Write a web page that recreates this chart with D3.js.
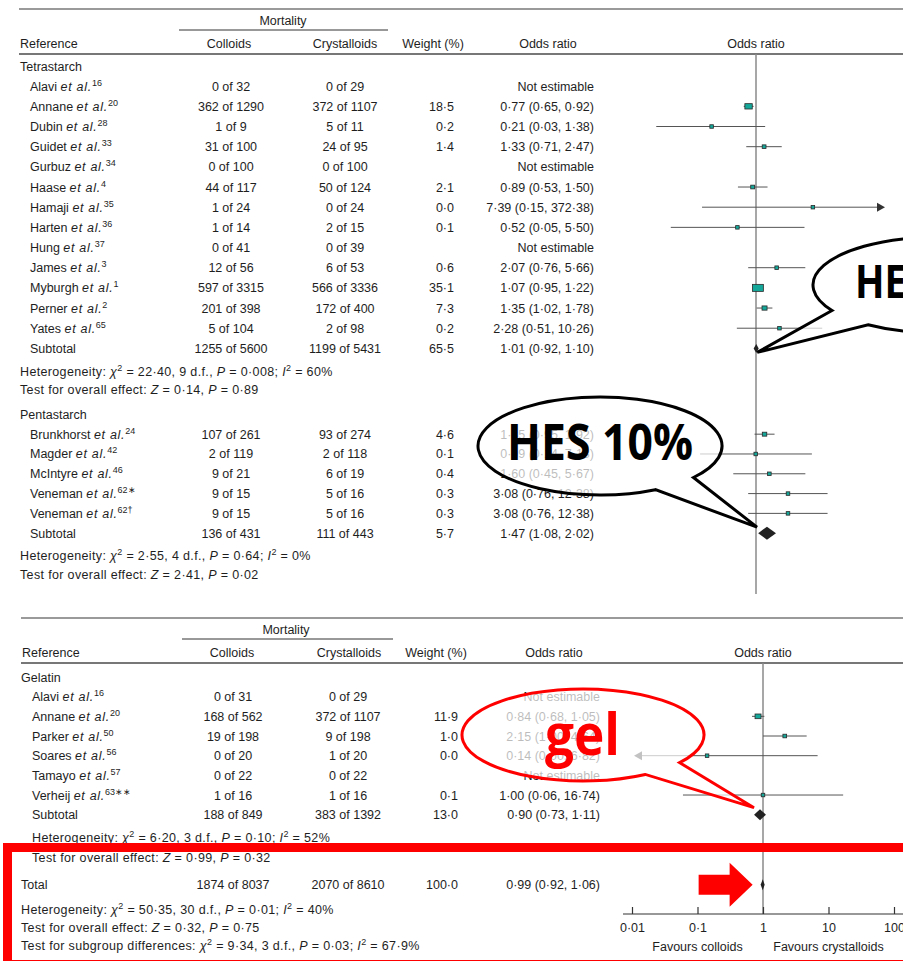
<!DOCTYPE html>
<html><head><meta charset="utf-8">
<script src="https://cdn.jsdelivr.net/npm/d3@7"></script>
<style>
html,body{margin:0;padding:0;background:#fff;overflow:hidden}
svg{display:block}
text{font-family:"Liberation Sans",Arial,Helvetica,sans-serif;font-size:12.5px;fill:#1e1e1e;white-space:pre}
</style></head><body>
<svg id="chart" width="903" height="961"></svg>
<script>
// ---------- data: tetrastarch ----------
const tetraNames = ["Alavi","Annane","Dubin","Guidet","Gurbuz","Haase","Hamaji","Harten","Hung","James","Myburgh","Perner","Yates"];
const tetraRefs = ["16","20","28","33","34","4","35","36","37","3","1","2","65"];
const tetraColEvents = [0,362,1,31,0,44,1,1,0,12,597,201,5];
const tetraColTotals = [32,1290,9,100,100,117,24,14,41,56,3315,398,104];
const tetraCryEvents = [0,372,5,24,0,50,0,2,0,6,566,172,2];
const tetraCryTotals = [29,1107,11,95,100,124,24,15,39,53,3336,400,98];
const tetraWeights = [null,18.5,0.2,1.4,null,2.1,0.0,0.1,null,0.6,35.1,7.3,0.2];
const tetraOR = [null,0.77,0.21,1.33,null,0.89,7.39,0.52,null,2.07,1.07,1.35,2.28];
const tetraLo = [null,0.65,0.03,0.71,null,0.53,0.15,0.05,null,0.76,0.95,1.02,0.51];
const tetraHi = [null,0.92,1.38,2.47,null,1.50,372.38,5.50,null,5.66,1.22,1.78,10.26];
const tetraSubtotal = [1255,5600,1199,5431,65.5,1.01,0.92,1.10];
const tetraHet = ["22·40","9","0·008","60"];
const tetraEffect = ["0·14","0·89"];

// ---------- data: pentastarch ----------
const pentaNames = ["Brunkhorst","Magder","McIntyre","Veneman","Veneman"];
const pentaRefs = ["24","42","46","62∗","62†"];
const pentaColEvents = [107,2,9,9,9];
const pentaColTotals = [261,119,21,15,15];
const pentaCryEvents = [93,2,6,5,5];
const pentaCryTotals = [274,118,19,16,16];
const pentaWeights = [4.6,0.1,0.4,0.3,0.3];
const pentaOR = [1.35,0.99,1.60,3.08,3.08];
const pentaLo = [0.95,0.14,0.45,0.76,0.76];
const pentaHi = [1.92,7.13,5.67,12.38,12.38];
const pentaSubtotal = [136,431,111,443,5.7,1.47,1.08,2.02];
const pentaHet = ["2·55","4","0·64","0"];
const pentaEffect = ["2·41","0·02"];

// ---------- data: gelatin ----------
const gelNames = ["Alavi","Annane","Parker","Soares","Tamayo","Verheij"];
const gelRefs = ["16","20","50","56","57","63∗∗"];
const gelColEvents = [0,168,19,0,0,1];
const gelColTotals = [31,562,198,20,22,16];
const gelCryEvents = [0,372,9,1,0,1];
const gelCryTotals = [29,1107,198,20,22,16];
const gelWeights = [null,11.9,1.0,0.0,null,0.1];
const gelOR = [null,0.84,2.15,0.14,null,1.00];
const gelLo = [null,0.68,1.00,0.00,null,0.06];
const gelHi = [null,1.05,4.64,6.82,null,16.74];
const gelSubtotal = [188,849,383,1392,13.0,0.90,0.73,1.11];
const gelHet = ["6·20","3","0·10","52"];
const gelEffect = ["0·99","0·32"];

// ---------- data: overall ----------
const totalRow = [1874,8037,2070,8610,100.0,0.99,0.92,1.06];
const totalHet = ["50·35","30","0·01","40"];
const totalEffect = ["0·32","0·75"];
const subgroupTest = ["9·34","3","0·03","67·9"];
const axisTicks = [0.01,0.1,1,10,100];
const axisTickLabels = ["0·01","0·1","1","10","100"];

// ---------- helpers ----------
const svg = d3.select("#chart");
const fmt = (v, d) => v.toFixed(d).replace(".", "·");
const TEAL = "#14a89a";

function studies(names, refs, ce, ct, re, rt, w, or, lo, hi) {
  return names.map((n, i) => ({kind:"study", name:n, ref:refs[i],
    col:`${ce[i]} of ${ct[i]}`, cry:`${re[i]} of ${rt[i]}`,
    w:w[i], or:or[i], lo:lo[i], hi:hi[i]}));
}
function pooled(kind, label, s) {
  return {kind, name:label, col:`${s[0]} of ${s[1]}`, cry:`${s[2]} of ${s[3]}`,
    w:s[4], or:s[5], lo:s[6], hi:s[7]};
}
const hetParts = h => [["Heterogeneity: "],["χ","i"],["2","sup"],[` = ${h[0]}, ${h[1]} d.f., `],["P","i"],[` = ${h[2]}; `],["I","i"],["2","sup"],[` = ${h[3]}%`]];
const effParts = e => [["Test for overall effect: "],["Z","i"],[` = ${e[0]}, `],["P","i"],[` = ${e[1]}`]];
const subParts = h => [["Test for subgroup differences: "],["χ","i"],["2","sup"],[` = ${h[0]}, ${h[1]} d.f., `],["P","i"],[` = ${h[2]}; `],["I","i"],["2","sup"],[` = ${h[3]}%`]];

function writeParts(t, parts) {
  let raised = false;
  parts.forEach(([s, st]) => {
    const ts = t.append("tspan").text(s);
    if (st === "i") ts.attr("font-style", "italic");
    if (st === "ei") ts.attr("font-style", "italic").style("letter-spacing", "0.7px");
    if (st === "sup") {
      ts.style("font-size", "9px");
      if (!raised) ts.attr("dy", -5);
      raised = true;
    } else if (raised) { ts.attr("dy", 5); raised = false; }
  });
}

// Lays rows out top-to-bottom; each entry gives the gap before that row
function layout(entries, y0) {
  let y = y0;
  return entries.map(([row, gap], i) => { if (i) y += gap; return Object.assign({y}, row); });
}

function drawPanel(g, cfg, rows) {
  const x = d3.scaleLog().domain([0.01, 100]).range([cfg.x1 - 131, cfg.x1 + 131]);
  const T = (px, py, anchor) => g.append("text").attr("x", px).attr("y", py + 4.5).attr("text-anchor", anchor || "start");

  // header block
  g.append("line").attr("x1", cfg.left).attr("x2", 903).attr("y1", cfg.top).attr("y2", cfg.top)
    .attr("stroke", "#9a9a9a").attr("stroke-width", 2);
  T(cfg.mortC, cfg.top + 11, "middle").text("Mortality");
  g.append("line").attr("x1", cfg.mortL).attr("x2", cfg.mortR).attr("y1", cfg.top + 21).attr("y2", cfg.top + 21)
    .attr("stroke", "#333").attr("stroke-width", 1);
  const hy = cfg.top + 34;
  T(cfg.left + 1, hy).text("Reference");
  T(cfg.colH, hy, "middle").text("Colloids");
  T(cfg.cryH, hy, "middle").text("Crystalloids");
  T(cfg.wH, hy, "middle").text("Weight (%)");
  T(cfg.orH, hy, "middle").text("Odds ratio");
  T(cfg.x1, hy, "middle").text("Odds ratio");
  g.append("line").attr("x1", cfg.left).attr("x2", 903).attr("y1", cfg.top + 45).attr("y2", cfg.top + 45)
    .attr("stroke", "#4a4a4a").attr("stroke-width", 1.5);

  // line of no effect
  g.append("line").attr("x1", x(1)).attr("x2", x(1)).attr("y1", cfg.top + 45).attr("y2", cfg.refBottom)
    .attr("stroke", "#8a8a8a").attr("stroke-width", 1.5);

  const orText = r => r.or == null ? "Not estimable" : `${fmt(r.or, 2)} (${fmt(r.lo, 2)}, ${fmt(r.hi, 2)})`;

  rows.forEach(r => {
    if (r.kind === "group") { T(cfg.headX, r.y).text(r.name); return; }
    if (r.kind === "stat") { writeParts(T(r.x, r.y).style("letter-spacing", "0.35px"), r.parts); return; }
    const nx = r.kind === "total" ? cfg.headX : cfg.nameX;
    const t = T(nx, r.y);
    if (r.kind === "study") writeParts(t, [[r.name + " "], ["et al.", "ei"], [r.ref, "sup"]]);
    else t.text(r.name);
    T(cfg.colC, r.y, "middle").text(r.col);
    T(cfg.cryC, r.y, "middle").text(r.cry);
    if (r.w != null) T(cfg.wR, r.y, "end").text(fmt(r.w, 1));
    T(cfg.orR, r.y, "end").text(orText(r));
    if (r.or == null) return;

    if (r.kind === "study") {
      const lo = Math.max(r.lo, 0.01), hi = Math.min(r.hi, 100);
      let xa = x(lo), xb = x(hi);
      if (r.lo < 0.01) {
        const tip = x(0.01) + 2;
        g.append("path").attr("d", `M${tip},${r.y}L${tip + 8},${r.y - 4.5}L${tip + 8},${r.y + 4.5}Z`).attr("fill", "#333");
        xa = tip + 8;
      }
      if (r.hi > 100) {
        const tip = x(100) - 2;
        g.append("path").attr("d", `M${tip},${r.y}L${tip - 8},${r.y - 4.5}L${tip - 8},${r.y + 4.5}Z`).attr("fill", "#333");
        xb = tip - 8;
      }
      g.append("line").attr("x1", xa).attr("x2", xb).attr("y1", r.y).attr("y2", r.y)
        .attr("stroke", "#555").attr("stroke-width", 1);
      const bw = 3.5 + r.w * 0.21, bh = 3.5 + r.w * 0.1;
      g.append("rect").attr("x", x(r.or) - bw / 2).attr("y", r.y - bh / 2)
        .attr("width", bw).attr("height", bh)
        .attr("fill", TEAL).attr("stroke", "#2a2a2a").attr("stroke-width", 0.8);
    } else {
      const h = r.dh || 11;
      g.append("path")
        .attr("d", `M${x(r.lo)},${r.y}L${x(r.or)},${r.y - h / 2}L${x(r.hi)},${r.y}L${x(r.or)},${r.y + h / 2}Z`)
        .attr("fill", "#222");
    }
  });
  return x;
}

// ---------- top panel: tetrastarch + pentastarch ----------
const S1 = 20.17, S2 = 19.8;
const topRows = layout([
  [{kind:"group", name:"Tetrastarch"}, 0],
  ...studies(tetraNames, tetraRefs, tetraColEvents, tetraColTotals, tetraCryEvents, tetraCryTotals, tetraWeights, tetraOR, tetraLo, tetraHi).map(r => [r, S1]),
  [Object.assign(pooled("subtotal", "Subtotal", tetraSubtotal), {dh:9}), S1],
  [{kind:"stat", x:20, parts:hetParts(tetraHet)}, 23],
  [{kind:"stat", x:20, parts:effParts(tetraEffect)}, 18],
  [{kind:"group", name:"Pentastarch"}, 25],
  ...studies(pentaNames, pentaRefs, pentaColEvents, pentaColTotals, pentaCryEvents, pentaCryTotals, pentaWeights, pentaOR, pentaLo, pentaHi).map(r => [r, S2]),
  [Object.assign(pooled("subtotal", "Subtotal", pentaSubtotal), {dh:13}), S2],
  [{kind:"stat", x:20, parts:hetParts(pentaHet)}, 22],
  [{kind:"stat", x:20, parts:effParts(pentaEffect)}, 19]
], 66);

const topG = svg.append("g");
const xTop = drawPanel(topG, {top:9, left:19, mortC:283, mortL:179, mortR:388,
  colH:229, cryH:345, wH:433, orH:548, x1:756, refBottom:594,
  headX:20, nameX:30, colC:231, cryC:345, wR:454, orR:594}, topRows);

// ---------- bottom panel: gelatin + overall ----------
const S3 = 19.67;
const botRows = layout([
  [{kind:"group", name:"Gelatin"}, 0],
  ...studies(gelNames, gelRefs, gelColEvents, gelColTotals, gelCryEvents, gelCryTotals, gelWeights, gelOR, gelLo, gelHi).map(r => [r, S3]),
  [pooled("subtotal", "Subtotal", gelSubtotal), S3],
  [{kind:"stat", x:32, parts:hetParts(gelHet)}, 23],
  [{kind:"stat", x:32, parts:effParts(gelEffect)}, 20],
  [pooled("total", "Total", totalRow), 27],
  [{kind:"stat", x:21, parts:hetParts(totalHet)}, 25],
  [{kind:"stat", x:21, parts:effParts(totalEffect)}, 18],
  [{kind:"stat", x:21, parts:subParts(subgroupTest)}, 18]
], 677);

const botG = svg.append("g");
const xBot = drawPanel(botG, {top:618, left:21, mortC:286, mortL:182, mortR:393,
  colH:232, cryH:349, wH:436, orH:554, x1:763, refBottom:914,
  headX:21, nameX:32, colC:233, cryC:348, wR:458, orR:600}, botRows);

// odds-ratio axis
const axisY = 914;
botG.append("line").attr("x1", 623).attr("x2", 903).attr("y1", axisY).attr("y2", axisY)
  .attr("stroke", "#333").attr("stroke-width", 1.2);
const ax = botG.append("g").attr("transform", `translate(0,${axisY})`)
  .call(d3.axisBottom(xBot).tickValues(axisTicks).tickSizeInner(-7).tickSizeOuter(0).tickPadding(9)
    .tickFormat((d, i) => axisTickLabels[i]));
ax.select(".domain").remove();
ax.selectAll(".tick line").attr("stroke", "#333").attr("stroke-width", 1.2);
ax.selectAll(".tick text").attr("fill", "#1e1e1e");
ax.attr("font-family", null).attr("font-size", null);
botG.append("text").attr("x", xBot(0.1)).attr("y", 951).attr("text-anchor", "middle").text("Favours colloids");
botG.append("text").attr("x", xBot(10)).attr("y", 951).attr("text-anchor", "middle").text("Favours crystalloids");

// ---------- call-out annotations ----------
function bubblePath(cx, cy, rx, ry, a1, a2, sweep, tip) {
  const p = a => [cx + rx * Math.cos(a * Math.PI / 180), cy + ry * Math.sin(a * Math.PI / 180)];
  const s = p(a1), e = p(a2);
  return `M${s[0]},${s[1]}A${rx},${ry} 0 1 ${sweep} ${e[0]},${e[1]}L${tip[0]},${tip[1]}Z`;
}
const ann = svg.append("g");
const tetraSubY = topRows.find(r => r.kind === "subtotal").y;
const pentaSubY = topRows.filter(r => r.kind === "subtotal")[1].y;
const gelSubY = botRows.find(r => r.kind === "subtotal").y;
const bigText = (x, y, size, color, str) => ann.append("text").attr("x", x).attr("y", y)
  .style("font-family", "'Open Sans','Liberation Sans',Arial,sans-serif")
  .style("font-size", size + "px").style("font-weight", "bold").style("fill", color).text(str);

ann.append("path").attr("d", bubblePath(938, 285, 125, 48, 148, 124, 1, [xTop(1.01) + 1, tetraSubY + 4]))
  .attr("fill", "#fff").attr("fill-opacity", 0.7).attr("stroke", "#000").attr("stroke-width", 3);
bigText(0, 0, 46, "#000", "HES 6%").attr("transform", "translate(855,298) scale(0.84,1)");

ann.append("path").attr("d", bubblePath(600, 446, 122, 49, 40, 63, 0, [xTop(1) + 1, pentaSubY - 6]))
  .attr("fill", "#fff").attr("fill-opacity", 0.7).attr("stroke", "#000").attr("stroke-width", 3);
bigText(507, 460, 50, "#000", "HES 10%").attr("textLength", 186).attr("lengthAdjust", "spacingAndGlyphs");

ann.append("path").attr("d", bubblePath(583, 735, 121, 46, 37, 59, 0, [xBot(0.90) - 6, gelSubY - 7]))
  .attr("fill", "#fff").attr("fill-opacity", 0.7).attr("stroke", "#ff0000").attr("stroke-width", 3);
bigText(545, 755, 58, "#ff0000", "gel").attr("textLength", 75).attr("lengthAdjust", "spacingAndGlyphs");

// highlight box around the overall result
ann.append("rect").attr("x", 7.5).attr("y", 847.5).attr("width", 1000).attr("height", 117)
  .attr("fill", "none").attr("stroke", "#ff0000").attr("stroke-width", 9);

// arrow pointing at the overall diamond
const totY = botRows.find(r => r.kind === "total").y;
const tipX = xBot(0.92) - 8;
ann.append("path")
  .attr("d", `M${tipX - 54},${totY - 10}H${tipX - 23}V${totY - 22}L${tipX},${totY}L${tipX - 23},${totY + 22}V${totY + 10}H${tipX - 54}Z`)
  .attr("fill", "#ff0000");
</script>
</body></html>
